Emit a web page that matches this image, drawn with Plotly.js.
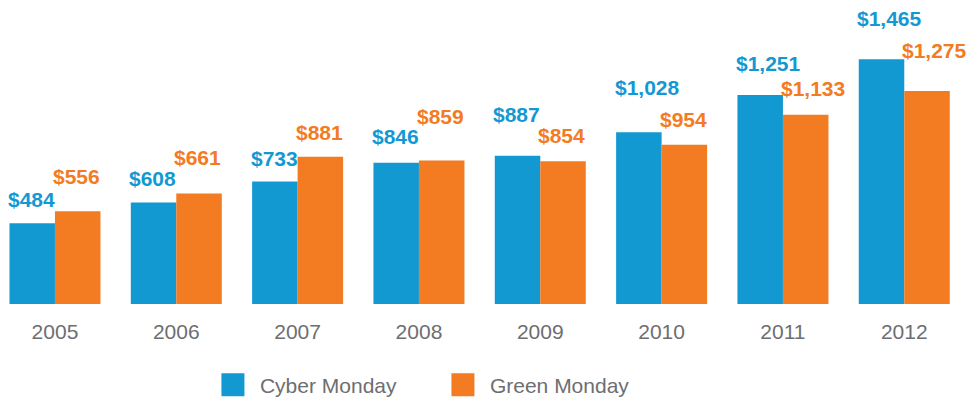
<!DOCTYPE html>
<html>
<head>
<meta charset="utf-8">
<script src="https://cdn.plot.ly/plotly-3.0.1.min.js"></script>
<style>
html,body{margin:0;padding:0;background:#fff;}
#chart{width:971px;height:400px;}
</style>
</head>
<body>
<div id="chart"></div>
<script>
// ---- data ----
const years = ['2005','2006','2007','2008','2009','2010','2011','2012'];
const cyberMonday = [484, 608, 733, 846, 887, 1028, 1251, 1465];
const greenMonday = [556, 661, 881, 859, 854, 954, 1133, 1275];
const seriesNames = ['Cyber Monday', 'Green Monday'];

// ---- styling (label lifts above bar tops, in px) ----
const cyberLift = [24, 24, 23, 26, 41, 45, 32, 41];
const greenLift = [35, 36, 24, 44, 26, 25, 26, 41];
const BLUE = '#1399d2';
const ORANGE = '#f37b22';
const FONT = 'Liberation Sans, Arial, sans-serif';

function fmt(v) {
  return '$' + String(v).replace(/\B(?=(\d{3})+(?!\d))/g, ',');
}

const traces = [
  {type:'bar', name:seriesNames[0], x:years, y:cyberMonday, marker:{color:BLUE}, hoverinfo:'none'},
  {type:'bar', name:seriesNames[1], x:years, y:greenMonday, marker:{color:ORANGE}, hoverinfo:'none'}
];

const annotations = [];
for (let i = 0; i < years.length; i++) {
  annotations.push({x:i, y:cyberMonday[i], xref:'x', yref:'y', text:'<b>' + fmt(cyberMonday[i]) + '</b>',
    showarrow:false, xanchor:'left', yanchor:'middle', xshift:-49, yshift:cyberLift[i],
    font:{family:FONT, size:21, color:BLUE}});
  annotations.push({x:i, y:greenMonday[i], xref:'x', yref:'y', text:'<b>' + fmt(greenMonday[i]) + '</b>',
    showarrow:false, xanchor:'left', yanchor:'middle', xshift:-4, yshift:greenLift[i],
    font:{family:FONT, size:21, color:ORANGE}});
}

const layout = {
  width:971, height:400,
  margin:{l:0, r:0, t:0, b:96, autoexpand:false},
  paper_bgcolor:'#fff', plot_bgcolor:'#fff',
  barmode:'group', bargap:0.25, bargroupgap:0,
  xaxis:{type:'category', range:[-0.453, 7.55], showgrid:false, zeroline:false, showline:false,
    ticks:'', tickfont:{family:FONT, size:21, color:'#6d6e71'},
    ticklabelstandoff:13, fixedrange:true},
  yaxis:{range:[0, 1820], visible:false, fixedrange:true},
  showlegend:true,
  legend:{orientation:'h', x:0.2265, xanchor:'left', yref:'container', y:0.0375, yanchor:'middle',
    font:{family:FONT, size:21, color:'#6d6e71'},
    entrywidth:185, itemclick:false, itemdoubleclick:false, traceorder:'normal'},
  annotations: annotations
};

Plotly.newPlot('chart', traces, layout, {displayModeBar:false, staticPlot:true}).then(() => {
  document.querySelectorAll('.legendpoints path').forEach(p => {
    p.setAttribute('d', 'M4.5,11.5H-18.5V-11.5H4.5Z');
  });
});
</script>
</body>
</html>
